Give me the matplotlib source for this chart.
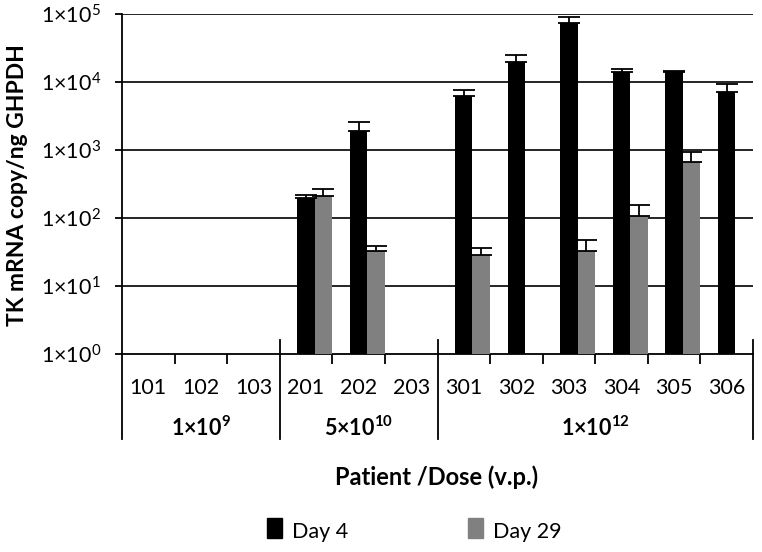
import numpy as np
import matplotlib
matplotlib.use("Agg")
import matplotlib.pyplot as plt
from matplotlib.patches import Rectangle

plt.rcParams['font.family'] = ['Lato', 'DejaVu Sans']
plt.rcParams['mathtext.fontset'] = 'custom'
plt.rcParams['mathtext.rm'] = 'Lato'
plt.rcParams['mathtext.it'] = 'Lato:italic'
plt.rcParams['mathtext.bf'] = 'Lato:bold'
plt.rcParams['mathtext.default'] = 'rm'

# ---- data ----
patients = ['101', '102', '103', '201', '202', '203',
            '301', '302', '303', '304', '305', '306']
groups = [r'$\mathbf{1{\times}10^{9}}$', r'$\mathbf{5{\times}10^{10}}$',
          r'$\mathbf{1{\times}10^{12}}$']
group_sizes = [3, 3, 6]
day4 = [np.nan, np.nan, np.nan, 195, 1900, np.nan,
        6200, 19600, 74000, 14000, 14000, 7100]
day4_err = [0, 0, 0, 23, 670, 0,
            1400, 5400, 15000, 1600, 300, 2200]
day29 = [np.nan, np.nan, np.nan, 210, 33, np.nan,
         29, np.nan, 33, 107, 660, np.nan]
day29_err = [0, 0, 0, 58, 6, 0,
             7, 0, 15, 48, 280, 0]
series_labels = ['Day 4', 'Day 29']
series_colors = ['#000000', '#808080']
yticks = [1e0, 1e1, 1e2, 1e3, 1e4, 1e5]
ytick_labels = [r'$1{\times}10^{0}$', r'$1{\times}10^{1}$', r'$1{\times}10^{2}$',
                r'$1{\times}10^{3}$', r'$1{\times}10^{4}$', r'$1{\times}10^{5}$']

FS = 15.5
FB = 16.5
W, H = 762, 552
fig = plt.figure(figsize=(W / 100, H / 100), dpi=100)
ax = fig.add_axes([122 / W, 1 - 354 / H, (753 - 122) / W, (354 - 14) / H])

x = np.arange(len(patients))
bw = 0.33
d4 = np.array(day4, float)
d29 = np.array(day29, float)
e4 = np.array(day4_err, float)
e29 = np.array(day29_err, float)

ax.bar(x, d4, width=bw, color=series_colors[0], zorder=3,
       yerr=[np.zeros_like(e4), e4], capsize=8,
       error_kw=dict(elinewidth=1.3, capthick=1.3, ecolor='black', zorder=4))
ax.bar(x + bw, d29, width=bw, color=series_colors[1], zorder=3,
       yerr=[np.zeros_like(e29), e29], capsize=8,
       error_kw=dict(elinewidth=1.3, capthick=1.3, ecolor='black', zorder=4))

ax.set_yscale('log')
ax.set_ylim(1, 1e5)
ax.set_xlim(-0.5, len(patients) - 0.5)
ax.set_yticks(yticks)
ax.set_yticklabels(ytick_labels, fontsize=FS)
ax.yaxis.set_minor_locator(matplotlib.ticker.NullLocator())
ax.tick_params(axis='y', direction='out', length=5, width=1.3, pad=10)
for yv in yticks[1:]:
    ax.axhline(yv, color='black', lw=1.2, zorder=1)

for s in ['top', 'right']:
    ax.spines[s].set_visible(False)
for s in ['left', 'bottom']:
    ax.spines[s].set_linewidth(1.3)

# x ticks: short boundaries within groups
bounds = np.arange(len(patients) + 1) - 0.5
starts = np.cumsum([0] + group_sizes)
seps = [bounds[s] for s in starts]
minor = [b for b in bounds if b not in seps]
ax.set_xticks(minor)
ax.set_xticklabels([])
ax.tick_params(axis='x', direction='out', length=7, width=1.3)

# group separators
top_ext = (354 - 340) / 340
bot_ext = -(439 - 354) / 340
for i, sx in enumerate(seps):
    y0 = 0 if i == 0 else top_ext
    ax.plot([sx, sx], [y0, bot_ext], color='black', lw=1.3,
            transform=ax.get_xaxis_transform(), clip_on=False)

# category labels
for xi, lab in zip(x, patients):
    ax.text(xi, -(388 - 354) / 340, lab, ha='center', va='center',
            fontsize=FS, transform=ax.get_xaxis_transform())
# group labels
for gi, g in enumerate(groups):
    c = (starts[gi] + starts[gi + 1] - 1) / 2
    ax.text(c, -(428 - 354) / 340, g, ha='center', va='center',
            fontsize=FS, fontweight='bold', transform=ax.get_xaxis_transform())

fig.text(18 / W, 1 - 185 / H, 'TK mRNA copy/ng GHPDH', rotation=90,
         ha='center', va='center', fontsize=FB, fontweight='bold')
fig.text(437 / W, 1 - 477 / H, 'Patient /Dose (v.p.)', ha='center', va='center',
         fontsize=FB + 0.5, fontweight='bold')

# legend
leg_x = [267, 468]
for lx, lab, col in zip(leg_x, series_labels, series_colors):
    fig.patches.append(Rectangle((lx / W, 1 - 538 / H), 15 / W, 20 / H,
                                 color=col, transform=fig.transFigure))
    fig.text((lx + 25) / W, 1 - 532 / H, lab, ha='left', va='center', fontsize=FS)

fig.savefig('out.png', dpi=100)
